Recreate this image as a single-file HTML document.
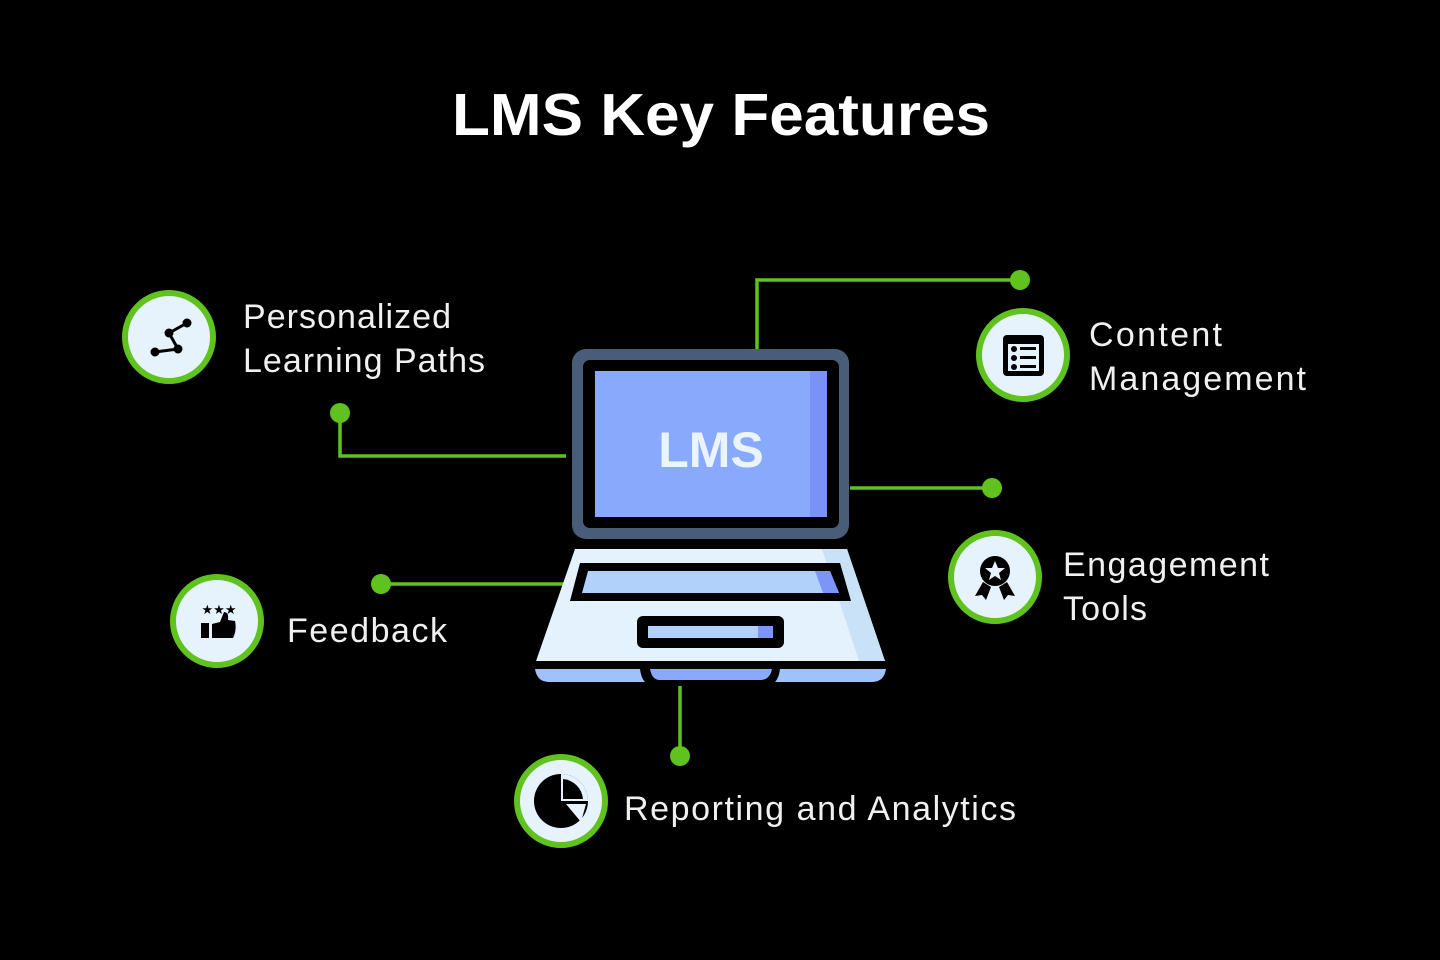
<!DOCTYPE html>
<html><head><meta charset="utf-8"><style>
html,body{margin:0;padding:0;background:#000;}
svg{display:block;}
text{font-family:"Liberation Sans",sans-serif;}
</style></head><body>
<svg width="1440" height="960" viewBox="0 0 1440 960" xmlns="http://www.w3.org/2000/svg">
<rect width="1440" height="960" fill="#000"/>
<text x="452" y="135" font-size="59" font-weight="bold" fill="#fff" textLength="538" lengthAdjust="spacingAndGlyphs">LMS Key Features</text>

<g stroke="#5fc21e" stroke-width="3.5" fill="none">
<polyline points="757,349 757,280 1020,280"/>
<polyline points="340,413 340,456 566,456"/>
<line x1="850" y1="488" x2="992" y2="488"/>
<line x1="381" y1="584" x2="568" y2="584"/>
<line x1="680" y1="685" x2="680" y2="756"/>
</g>
<g fill="#5fc21e">
<circle cx="1020" cy="280" r="10"/><circle cx="340" cy="413" r="10"/>
<circle cx="992" cy="488" r="10"/><circle cx="381" cy="584" r="10"/>
<circle cx="680" cy="756" r="10"/>
</g>

<!-- laptop -->
<rect x="572" y="349" width="277" height="190" rx="14" fill="#4a5d78"/>
<rect x="583" y="360" width="256" height="168" rx="7" fill="#000"/>
<rect x="595" y="371" width="232" height="146" fill="#89a9fc"/>
<rect x="810" y="371" width="17" height="146" fill="#7a92f6"/>
<text x="711" y="467" text-anchor="middle" font-size="50" font-weight="bold" fill="#eaf4ff">LMS</text>
<polygon points="575,549 847,549 886,664 535,664" fill="#e4f2fd"/>
<polygon points="822,549 847,549 886,664 860,664" fill="#c9e2f7"/>
<rect x="535" y="661" width="351" height="8" fill="#000"/>
<path d="M535,669 H886 Q884,682 872,682 H549 Q537,682 535,669 Z" fill="#9fc2fb"/>
<path d="M640,669 H780 Q778,686 765,686 H655 Q642,686 640,669 Z" fill="#000"/>
<path d="M650,669 H772 Q770,680 760,680 H660 Q652,680 650,669 Z" fill="#89a9fc"/>
<polygon points="580,563 840,563 851,601 570,601" fill="#000"/>
<polygon points="588,571 830,571 839,593 582,593" fill="#b1d1fb"/>
<polygon points="815,571 830,571 839,593 823,593" fill="#7d95f6"/>
<rect x="637" y="616" width="147" height="32" rx="6" fill="#000"/>
<rect x="648" y="626" width="125" height="12" fill="#b1d1fb"/>
<rect x="758" y="626" width="15" height="12" fill="#7d95f6"/>

<!-- circles -->
<g fill="#e6f3fd" stroke="#5fc21e" stroke-width="6">
<circle cx="169" cy="337" r="44"/>
<circle cx="1023" cy="355" r="44"/>
<circle cx="995" cy="577" r="44"/>
<circle cx="217" cy="621" r="44"/>
<circle cx="561" cy="801" r="44"/>
</g>
<!-- icons -->
<g fill="#000" stroke="#000">
<line x1="155" y1="352" x2="178" y2="349" stroke-width="3"/>
<line x1="178" y1="349" x2="169" y2="333" stroke-width="3"/>
<line x1="169" y1="333" x2="187" y2="323" stroke-width="3"/>
<circle cx="155" cy="352" r="4"/><circle cx="178" cy="349" r="4"/>
<circle cx="169" cy="333" r="4"/><circle cx="187" cy="323" r="4"/>
</g>
<rect x="1003" y="335" width="41" height="41" rx="4" fill="#000"/>
<rect x="1008" y="344" width="31" height="27" fill="#e6f3fd"/>
<g fill="#000"><circle cx="1014" cy="349" r="3"/><circle cx="1014" cy="358" r="3"/><circle cx="1014" cy="367" r="3"/>
<rect x="1020" y="347" width="16" height="3"/><rect x="1020" y="356" width="16" height="3"/><rect x="1020" y="365" width="16" height="3"/></g>
<circle cx="995" cy="571" r="15" fill="#000"/>
<polygon points="995,561 998,568 1005,568 999,573 1001,580 995,576 989,580 991,573 985,568 992,568" fill="#e6f3fd"/>
<polygon points="983,582 975,596 982,595 986,600 991,587" fill="#000"/>
<polygon points="1007,582 1015,596 1008,595 1004,600 999,587" fill="#000"/>
<text x="219" y="614" text-anchor="middle" font-size="13" fill="#000">★★★</text>
<rect x="201" y="623" width="8" height="15" fill="#000"/>
<path d="M212,624 L220,622 L224,612 Q229,612 228,620 L235,621 Q237,630 233,638 L212,638 Z" fill="#000"/>
<circle cx="561" cy="801" r="27" fill="#000"/>
<path d="M561,801 L561,774 A27,27 0 0 1 588,801 Z" fill="#e6f3fd"/>
<path d="M563,799 L563,779 A22,22 0 0 1 583,799 Z" fill="#000"/>
<path d="M566,804 L586,804 L581,822 Z" fill="#e6f3fd"/>

<g font-size="34" fill="#f0f0f0" lengthAdjust="spacingAndGlyphs">
<text x="243" y="328" textLength="208">Personalized</text>
<text x="243" y="372" textLength="242">Learning Paths</text>
<text x="1089" y="346" textLength="133">Content</text>
<text x="1089" y="390" textLength="217">Management</text>
<text x="1063" y="576" textLength="206">Engagement</text>
<text x="1063" y="620" textLength="84">Tools</text>
<text x="287" y="642" textLength="160">Feedback</text>
<text x="624" y="820" textLength="392">Reporting and Analytics</text>
</g>
</svg>
</body></html>
